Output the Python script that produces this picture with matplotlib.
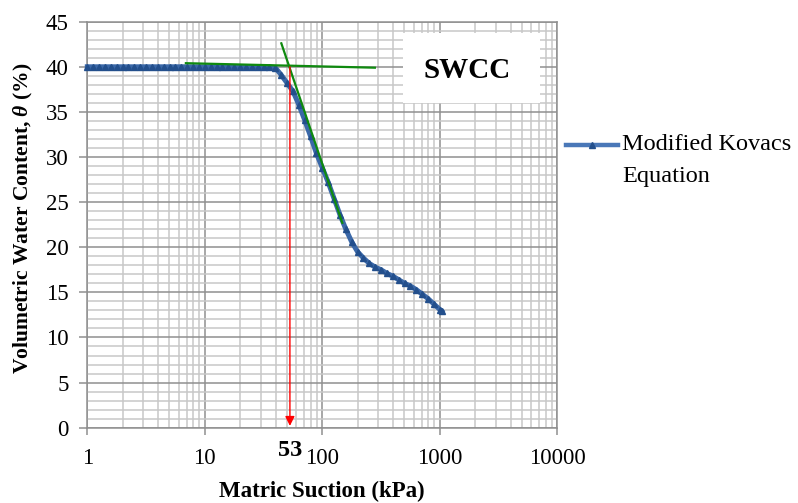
import matplotlib
matplotlib.use("Agg")
import matplotlib.pyplot as plt
from matplotlib.ticker import FixedLocator, NullFormatter, FixedFormatter
from matplotlib.patches import Rectangle

# ---- data ----
suction = [1.000, 1.122, 1.259, 1.413, 1.585, 1.778, 1.995, 2.239, 2.512, 2.818,
           3.162, 3.548, 3.981, 4.467, 5.012, 5.623, 6.310, 7.079, 7.943, 8.913,
           10.00, 11.22, 12.59, 14.13, 15.85, 17.78, 19.95, 22.39, 25.12, 28.18,
           31.62, 35.48, 39.81, 44.67, 50.12, 56.23, 63.10, 70.79, 79.43, 89.13,
           100.0, 112.2, 125.9, 141.3, 158.5, 177.8, 199.5, 223.9, 251.2, 281.8,
           316.2, 354.8, 398.1, 446.7, 501.2, 562.3, 631.0, 707.9, 794.3, 891.3,
           1000.0, 1040.0]
theta = [40.0, 40.0, 40.0, 40.0, 40.0, 40.0, 40.0, 40.0, 40.0, 40.0,
         40.0, 40.0, 40.0, 40.0, 40.0, 40.0, 40.0, 40.0, 40.0, 40.0,
         40.0, 40.0, 40.0, 40.0, 40.0, 40.0, 40.0, 40.0, 40.0, 40.0,
         40.0, 40.0, 39.9, 39.1, 38.2, 37.3, 35.8, 34.1, 32.3, 30.4,
         28.8, 27.2, 25.4, 23.6, 22.0, 20.6, 19.5, 18.8, 18.2, 17.8,
         17.5, 17.1, 16.8, 16.4, 16.0, 15.7, 15.3, 14.8, 14.3, 13.7,
         13.1, 12.9]

flat_fit_x = [6.9, 280.0]
flat_fit_y = [40.4, 39.9]
steep_fit_x = [44.8, 148.0]
steep_fit_y = [42.6, 22.7]
aev_x = 53
aev_top = 40.0

x_ticks = [1, 10, 100, 1000, 10000]
x_tick_labels = ["1", "10", "100", "1000", "10000"]
y_ticks = list(range(0, 46, 5))

# ---- style ----
plt.rcParams['font.family'] = ['Liberation Serif', 'DejaVu Serif']
plt.rcParams['mathtext.fontset'] = 'custom'
plt.rcParams['mathtext.rm'] = 'Liberation Serif'
plt.rcParams['mathtext.it'] = 'Liberation Serif:italic'
plt.rcParams['mathtext.bf'] = 'Liberation Serif:bold'
plt.rcParams['mathtext.bfit'] = 'Liberation Serif:bold:italic'

fig = plt.figure(figsize=(7.98, 5.03), dpi=100)
ax = fig.add_axes([0.1094, 0.1497, 0.589, 0.8072])

major_c = '#8f8f8f'
minor_c = '#c8c8c8'

ax.set_xscale('log')
ax.set_xlim(1, 10000)
ax.set_ylim(0, 45)

ax.xaxis.set_major_locator(FixedLocator(x_ticks))
ax.xaxis.set_major_formatter(FixedFormatter(x_tick_labels))
minor_x = [m * d for d in [1, 10, 100, 1000] for m in range(2, 10)]
ax.xaxis.set_minor_locator(FixedLocator(minor_x))
ax.xaxis.set_minor_formatter(NullFormatter())
ax.yaxis.set_major_locator(FixedLocator(y_ticks))
ax.yaxis.set_minor_locator(FixedLocator([v for v in range(0, 46) if v % 5]))

ax.grid(which='major', color=major_c, lw=1.1, zorder=0)
ax.grid(which='minor', color=minor_c, lw=1.1, zorder=0)
ax.set_axisbelow(True)
for s in ax.spines.values():
    s.set_color(major_c)
    s.set_linewidth(1.1)

ax.tick_params(axis='both', which='major', labelsize=16.5, color=major_c, width=1.1)
ax.tick_params(axis='x', which='major', length=4.7, pad=10)
ax.tick_params(axis='y', which='major', length=5.8, pad=7.5)
ax.tick_params(which='minor', length=0)

ax.set_xlabel('Matric Suction (kPa)', fontsize=16.5, fontweight='bold')
ax.xaxis.set_label_coords(0.5, -0.130)
ax.set_ylabel(r'Volumetric Water Content, $\mathbfit{\theta}$ (%)', fontsize=15.5,
              fontweight='bold')
ax.yaxis.set_label_coords(-0.112, 0.515)

# curve
ax.plot(suction, theta, color='#3b68a8', lw=3.6, marker='^', ms=4.2,
        mfc='#234f8c', mec='#234f8c', zorder=3, clip_on=False)

# tangent lines
ax.plot(flat_fit_x, flat_fit_y, color='#0f8a0f', lw=1.6, zorder=4)
ax.plot(steep_fit_x, steep_fit_y, color='#0f8a0f', lw=1.6, zorder=4)

# AEV arrow
ax.annotate('', xy=(aev_x, 0.2), xytext=(aev_x, aev_top),
            arrowprops=dict(arrowstyle='-|>', color='#ff0000', lw=1.0,
                            mutation_scale=14, shrinkA=0, shrinkB=0),
            zorder=5)
ax.text(aev_x, -3.17, str(aev_x), ha='center', va='baseline', fontsize=17.5,
        fontweight='bold', clip_on=False)

# SWCC box
ax.add_patch(Rectangle((0.6717, 0.7998), 0.2913, 0.1722, transform=ax.transAxes,
                       fc='white', ec='none', zorder=6))
ax.text(0.808, 0.8786, 'SWCC', transform=ax.transAxes, ha='center', va='center',
        fontsize=21, fontweight='bold', zorder=7)

# legend (manual)
fig.add_artist(plt.Line2D([566 / 798, 618 / 798], [1 - 145 / 503, 1 - 145 / 503],
                          color='#4a78b8', lw=3.2, transform=fig.transFigure))
fig.add_artist(plt.Line2D([592 / 798], [1 - 145 / 503], marker='^', ms=4,
                          color='#234f8c', transform=fig.transFigure))
fig.text(622 / 798, 1 - 145 / 503, 'Modified Kovacs', fontsize=17.5, va='center', ha='left')
fig.text(622 / 798, 1 - 177 / 503, 'Equation', fontsize=17.5, va='center', ha='left')

fig.savefig('out.png', dpi=100)
